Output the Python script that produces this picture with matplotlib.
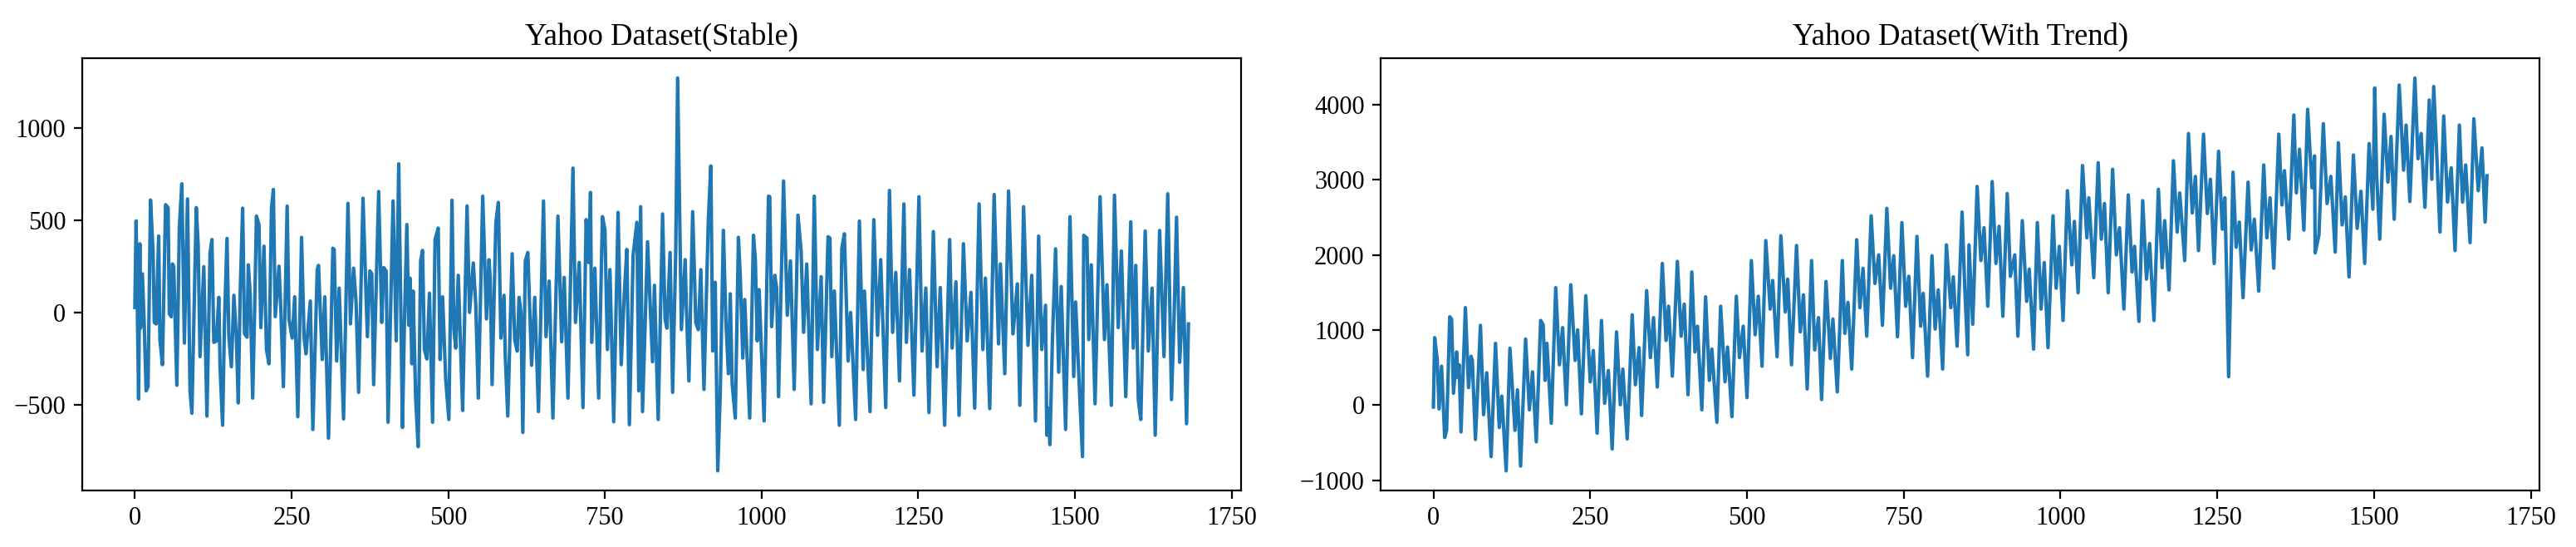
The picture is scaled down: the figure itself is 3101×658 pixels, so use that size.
import numpy as np
from matplotlib import pyplot as plt

# Values: turning points of each series
# (time index, value). Stable series first.
stable_x = [
    0, 2, 6, 8, 9, 12, 15, 18, 21, 25,
    29, 31, 34, 38, 40, 44, 49, 53, 55, 58,
    60, 62, 67, 71, 75, 79, 84, 88, 91, 98,
    101, 104, 110, 115, 120, 123, 126, 130, 134, 136,
    140, 143, 147, 150, 154, 158, 162, 165, 168, 172,
    175, 179, 181, 184, 188, 191, 194, 198, 201, 206,
    210, 214, 218, 221, 224, 230, 233, 237, 243, 246,
    251, 255, 260, 266, 270, 273, 280, 284, 291, 293,
    299, 303, 309, 316, 318, 322, 326, 333, 340, 344,
    349, 353, 357, 364, 371, 375, 378, 381, 389, 394,
    397, 401, 404, 412, 417, 421, 424, 427, 430, 434,
    437, 439, 442, 444, 448, 452, 456, 459, 462, 466,
    470, 475, 479, 484, 487, 491, 496, 501, 506, 509,
    512, 516, 523, 530, 534, 540, 544, 548, 555, 561,
    565, 567, 570, 576, 580, 584, 589, 591, 595, 602,
    606, 610, 613, 616, 619, 623, 627, 633, 638, 644,
    652, 656, 661, 667, 675, 681, 685, 691, 699, 703,
    709, 715, 720, 724, 727, 729, 734, 740, 746, 750,
    754, 758, 764, 771, 776, 781, 785, 789, 795, 801,
    804, 807, 810, 818, 826, 829, 835, 842, 846, 849,
    854, 858, 863, 866, 872, 878, 880, 884, 890, 895,
    899, 903, 908, 915, 919, 922, 926, 930, 934, 939,
    943, 947, 950, 953, 958, 963, 966, 970, 973, 981,
    987, 990, 993, 996, 1004, 1011, 1013, 1016, 1021, 1024,
    1027, 1035, 1041, 1046, 1052, 1058, 1063, 1067, 1072, 1079,
    1084, 1089, 1095, 1099, 1106, 1109, 1112, 1116, 1124, 1128,
    1132, 1138, 1142, 1150, 1156, 1162, 1164, 1173, 1179, 1185,
    1190, 1198, 1204, 1209, 1214, 1220, 1227, 1231, 1236, 1243,
    1251, 1256, 1262, 1267, 1274, 1280, 1285, 1292, 1300, 1304,
    1310, 1315, 1322, 1328, 1334, 1340, 1347, 1353, 1357, 1364,
    1371, 1378, 1381, 1388, 1394, 1401, 1408, 1412, 1418, 1425,
    1431, 1437, 1442, 1447, 1453, 1455, 1457, 1460, 1464, 1469,
    1474, 1478, 1485, 1492, 1498, 1501, 1507, 1512, 1514, 1519,
    1522, 1526, 1532, 1540, 1547, 1551, 1558, 1563, 1569, 1574,
    1581, 1589, 1593, 1597, 1601, 1605, 1612, 1617, 1623, 1628,
    1635, 1642, 1648, 1654, 1658, 1662, 1667, 1673, 1678, 1681,
]
stable_y = [
    29, 498, -467, 374, -83, 211, -67, -423, -400, 611,
    335, -52, -60, 416, -145, -281, 586, 570, -5, -21,
    265, 250, -392, 467, 699, -164, 617, -423, -544, 570,
    366, -237, 250, -559, 323, 397, -160, -153, 84, -299,
    -609, -52, 403, -129, -292, 95, -137, -488, 103, 567,
    -114, -132, 260, 103, -462, -5, 524, 478, -80, 361,
    -199, -276, 567, 668, -21, 253, 10, -400, 578, -36,
    -137, 87, -563, 409, -129, -222, 64, -632, 234, 257,
    -253, 87, -679, 350, 343, -261, 134, -575, 593, -60,
    242, 56, -431, 621, -129, 227, 211, -389, 657, -52,
    245, 227, -593, 606, -152, 807, 87, -621, -67, 478,
    -67, 188, -276, 118, -462, -725, 281, 338, -199, -250,
    106, -593, 397, 459, -253, 87, -361, -578, 610, -91,
    -191, 203, -529, 579, 2, 270, 41, -462, 632, -33,
    288, 188, -389, 490, 598, -137, 95, -237, -559, 320,
    -145, -207, 84, 2, -648, 281, 327, -284, 84, -535,
    606, -129, 172, -570, 524, -157, 192, -462, 784, -52,
    273, -513, 505, 273, 652, -160, 242, -462, 521, 451,
    -199, 234, -590, 544, -281, 111, 343, -606, 312, 490,
    -423, 575, -535, 385, -265, 149, -578, 536, -36, -83,
    327, -431, 335, 1272, -91, 288, 26, -369, 548, -52,
    -91, 234, -415, 505, 796, -207, 165, -856, -439, 447,
    -44, -330, 103, -384, -570, 409, 196, -245, 72, -570,
    420, 288, -152, 126, -586, 632, 629, -75, 203, 134,
    -454, 714, -13, 281, -415, 529, 335, -106, 265, -493,
    632, -199, 196, -485, 412, 405, -237, 118, -609, 350,
    428, -261, 2, -578, 497, -307, 118, -535, 505, -122,
    288, -513, 663, -106, 219, -369, 590, -160, 234, -446,
    629, -207, 134, -540, 440, -292, 137, -609, 397, -191,
    168, -555, 374, -152, 111, -516, 590, -199, 188, -519,
    641, -168, 265, -330, 660, -114, 157, -501, 575, -176,
    203, -586, 416, -199, 41, -663, -516, -714, -145, 347,
    -322, 142, -632, 521, -345, 59, -407, -779, 420, 405,
    -145, 260, -493, 629, -145, 152, -501, 637, -80, 335,
    -454, 493, -191, 257, -470, -578, 443, -207, 134, -663,
    446, -237, 645, -470, -36, 518, -268, 137, -601, -60,
]

# Series with trend
trend_x = [
    0, 2, 6, 9, 13, 18, 21, 26, 29, 32,
    37, 39, 41, 44, 51, 56, 60, 62, 67, 75,
    80, 85, 92, 99, 105, 109, 116, 122, 130, 134,
    139, 147, 153, 158, 164, 171, 175, 178, 181, 188,
    195, 201, 206, 212, 219, 226, 230, 236, 243, 250,
    255, 261, 268, 273, 279, 285, 292, 298, 302, 309,
    317, 322, 328, 332, 340, 346, 351, 357, 365, 371,
    375, 381, 389, 395, 400, 406, 412, 417, 421, 428,
    434, 440, 444, 452, 458, 465, 469, 476, 483, 488,
    494, 500, 507, 513, 518, 524, 530, 537, 541, 548,
    554, 561, 565, 571, 579, 585, 590, 596, 603, 608,
    614, 619, 626, 633, 637, 644, 652, 656, 661, 667,
    675, 680, 685, 691, 698, 704, 710, 716, 723, 729,
    734, 740, 747, 753, 758, 764, 771, 777, 781, 788,
    795, 800, 805, 812, 818, 825, 829, 835, 843, 847,
    852, 854, 860, 867, 873, 878, 884, 891, 897, 902,
    908, 915, 920, 927, 932, 939, 946, 950, 957, 963,
    969, 974, 980, 988, 993, 998, 1004, 1011, 1018, 1022,
    1028, 1035, 1042, 1045, 1053, 1060, 1065, 1070, 1076, 1083,
    1089, 1094, 1101, 1108, 1114, 1118, 1125, 1131, 1137, 1142,
    1149, 1156, 1162, 1166, 1173, 1180, 1186, 1190, 1198, 1204,
    1210, 1215, 1220, 1228, 1234, 1239, 1245, 1252, 1258, 1262,
    1265, 1268, 1275, 1280, 1285, 1291, 1299, 1304, 1309, 1316,
    1324, 1329, 1334, 1340, 1348, 1353, 1357, 1364, 1372, 1376,
    1381, 1388, 1394, 1401, 1405, 1406, 1412, 1419, 1425, 1431,
    1438, 1443, 1449, 1454, 1460, 1467, 1473, 1479, 1485, 1492,
    1498, 1501, 1504, 1509, 1516, 1522, 1527, 1532, 1540, 1547,
    1551, 1557, 1565, 1570, 1575, 1581, 1588, 1592, 1595, 1600,
    1605, 1611, 1617, 1623, 1629, 1636, 1641, 1646, 1653, 1659,
    1666, 1672, 1677, 1680,
]
trend_y = [
    -24, 900, 615, -50, 519, -431, -336, 1177, 1146, 158,
    709, 367, 538, -356, 1299, 234, 652, 596, -457, 1063,
    -127, 432, -685, 824, -298, 120, -875, 759, -336, 204,
    -811, 881, -62, 443, -488, 1128, 1071, 330, 824, -241,
    1565, 538, 1033, 6, 1603, 596, 1003, -116, 1458, 311,
    728, -374, 1128, 25, 462, -583, 976, 6, 481, -450,
    1204, 272, 766, -138, 1526, 633, 1166, 242, 1888, 862,
    1318, 386, 1915, 919, 1345, 139, 1774, 709, 1052, -62,
    1443, 330, 747, -229, 1318, 311, 774, -153, 1451, 633,
    1052, 101, 1926, 938, 1451, 519, 2192, 1280, 1660, 645,
    2257, 1242, 1679, 538, 2127, 976, 1470, 215, 1926, 736,
    1166, 75, 1648, 622, 1147, 177, 1926, 957, 1368, 481,
    2204, 1299, 1824, 919, 2523, 1622, 2002, 1063, 2622, 1558,
    1991, 911, 2432, 1318, 1717, 633, 2249, 1052, 1489, 386,
    1991, 1014, 1535, 481, 2135, 1299, 1710, 785, 2572, 1622,
    671, 2135, 1078, 2914, 1926, 2363, 1318, 2979, 1888, 2382,
    1184, 2819, 1717, 2002, 919, 2458, 1383, 1812, 747, 2432,
    1280, 1900, 766, 2523, 1558, 2116, 1128, 2857, 1869, 2447,
    1497, 3192, 2230, 2762, 1698, 3230, 2211, 2686, 1497, 3142,
    2002, 2363, 1280, 2800, 1774, 2116, 1116, 2724, 1679, 2154,
    1128, 2876, 1831, 2458, 1535, 3256, 2306, 2827, 1926, 3618,
    2561, 3047, 2059, 3610, 2553, 3009, 1888, 3382, 2344, 2762,
    1679, 379, 3104, 2104, 2439, 1432, 2971, 2067, 2477, 1519,
    3199, 2230, 2762, 1824, 3610, 2667, 3123, 2211, 3865, 2827,
    3408, 2332, 3941, 2895, 3321, 2028, 2268, 3750, 2686, 3047,
    2040, 3496, 2401, 2774, 1709, 3332, 2355, 2849, 1888, 3484,
    2610, 4226, 3066, 2211, 3876, 2971, 3579, 2477, 4264, 3131,
    3731, 2713, 4358, 3283, 3618, 2636, 4066, 3009, 4245, 3313,
    2306, 3853, 2705, 3161, 2059, 3731, 2705, 3199, 2165, 3815,
    2857, 3427, 2439, 3055,
]

titles = ["Yahoo Dataset(Stable)", "Yahoo Dataset(With Trend)"]

plt.rcParams["font.family"] = ["Liberation Serif", "DejaVu Serif"]
plt.rcParams["font.size"] = 11

fig = plt.figure(figsize=(15.505, 3.29), dpi=200)

# Two panels side by side, placed to match the reference
ax1 = fig.add_axes([0.0319, 0.1033, 0.4499, 0.790])
ax2 = fig.add_axes([0.5360, 0.1033, 0.4499, 0.790])

ax1.plot(np.array(stable_x), np.array(stable_y), color="#1f77b4", linewidth=1.5)
ax1.set_title(titles[0])

ax2.plot(np.array(trend_x), np.array(trend_y), color="#1f77b4", linewidth=1.5)
ax2.set_title(titles[1])

for ax in (ax1, ax2):
    ax.set_xticks([0, 250, 500, 750, 1000, 1250, 1500, 1750])

fig.savefig("out.png", dpi=200)
